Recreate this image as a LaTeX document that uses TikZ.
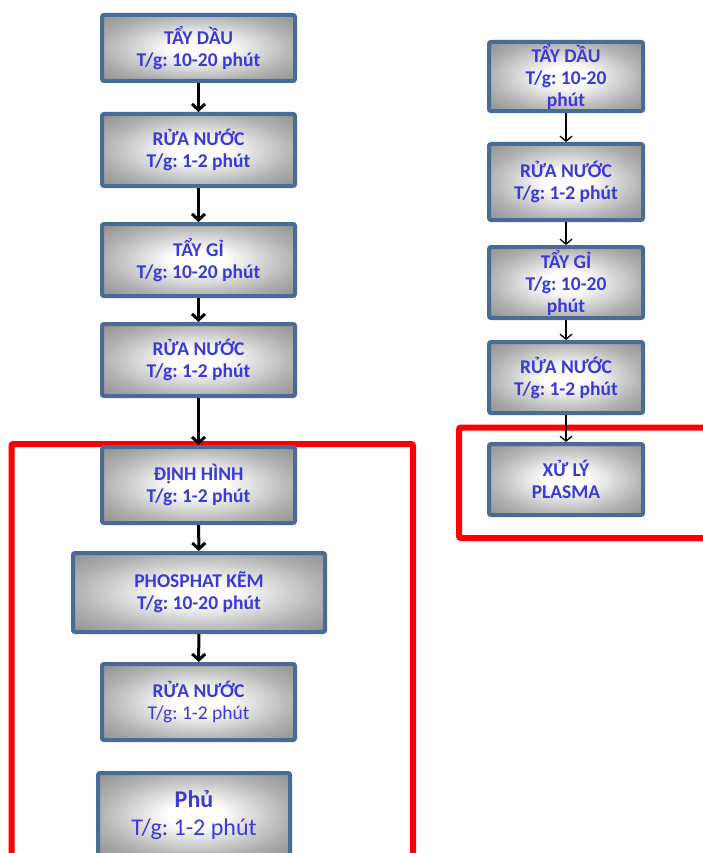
\documentclass[tikz,border=0pt]{standalone}
\usepackage{fontspec}
\setmainfont{Carlito}
\usetikzlibrary{arrows.meta}
\definecolor{stageblue}{HTML}{4A6B95}
\definecolor{txtblue}{HTML}{3A3AD8}
\definecolor{frame}{HTML}{FF0000}
\pgfdeclareradialshading{stagefill}{\pgfpoint{0bp}{0bp}}{%
  color(0bp)=(white); color(7bp)=(white); color(25bp)=(gray!62);
  color(36bp)=(gray!88); color(50bp)=(gray!88)}
\frenchspacing

\begin{document}
\begin{tikzpicture}[
  x=1pt, y=-1pt,
  stage/.style={
    draw=stageblue, line width=4pt, rounded corners=2pt,
    shading=stagefill, text=txtblue,
    align=center, inner sep=2pt,
    font=\fontsize{19.5}{22}\selectfont\bfseries
  },
  lstage/.style={stage, minimum width=193pt},
  rstage/.style={stage, minimum width=154pt},
  arr/.style={-{Straight Barb[length=6pt, width=13pt]}, line width=3pt, black},
  rarr/.style={-{Straight Barb[length=5pt, width=12pt]}, line width=1.3pt, black},
  redframe/.style={draw=frame, line width=6pt, rounded corners=2pt},
]

\useasboundingbox (0,0) rectangle (703,853);

% Red frames
\draw[redframe] (11.5,875) -- (11.5,444) -- (413,444) -- (413,875);
\draw[redframe] (725,427.5) -- (459,427.5) -- (459,538) -- (725,538);

% =============================================
% LEFT: process line
% =============================================
\node[lstage, shade, minimum height=66pt] (l-td) at (198.5,48)
  {TẨY DẦU\\T/g: 10-20 phút};

\node[lstage, shade, minimum height=72pt] (l-rn1) at (198.5,150)
  {RỬA NƯỚC\\T/g: 1-2 phút};

\node[lstage, shade, minimum height=72pt] (l-tg) at (198.5,260)
  {TẨY GỈ\\T/g: 10-20 phút};

\node[lstage, shade, minimum height=72pt] (l-rn2) at (198.5,360)
  {RỬA NƯỚC\\T/g: 1-2 phút};

\node[lstage, shade, minimum height=76pt] (l-dh) at (198.5,485)
  {ĐỊNH HÌNH\\T/g: 1-2 phút};

\node[stage, shade, minimum width=252pt, minimum height=79pt] (l-ph) at (199,592.5)
  {PHOSPHAT KẼM\\T/g: 10-20 phút};

\node[lstage, shade, minimum height=76pt] (l-rn3) at (198.5,702)
  {RỬA NƯỚC\\{\mdseries T/g: 1-2 phút}};

\node[stage, shade, minimum width=192pt, minimum height=84pt,
      font=\fontsize{24}{28}\selectfont\bfseries] (l-phu) at (194,815)
  {Phủ\\{\mdseries T/g: 1-2 phút}};

% Arrows
\draw[arr] (l-td) -- (l-rn1);
\draw[arr] (l-rn1) -- (l-tg);
\draw[arr] (l-tg) -- (l-rn2);
\draw[arr] (l-rn2) -- (l-dh);
\draw[arr] (l-dh) -- (l-ph);
\draw[arr] (l-ph) -- (l-rn3);

% =============================================
% RIGHT: process line
% =============================================
\node[rstage, shade, minimum height=69pt] (r-td) at (566,76.5)
  {TẨY DẦU\\T/g: 10-20\\phút};

\node[rstage, shade, minimum height=76pt] (r-rn1) at (566,182)
  {RỬA NƯỚC\\T/g: 1-2 phút};

\node[rstage, shade, minimum height=71pt] (r-tg) at (566,282.5)
  {TẨY GỈ\\T/g: 10-20\\phút};

\node[rstage, shade, minimum height=71pt] (r-rn2) at (566,377.5)
  {RỬA NƯỚC\\T/g: 1-2 phút};

\node[rstage, shade, minimum height=71pt] (r-pl) at (566,479.5)
  {XỬ LÝ\\PLASMA};

% Arrows
\draw[rarr] (r-td) -- (r-rn1);
\draw[rarr] (r-rn1) -- (r-tg);
\draw[rarr] (r-tg) -- (r-rn2);
\draw[rarr] (r-rn2) -- (r-pl);

\end{tikzpicture}
\end{document}
